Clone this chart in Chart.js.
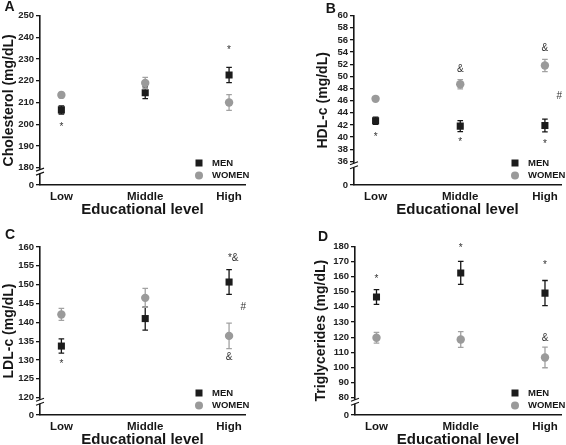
<!DOCTYPE html>
<html lang="en">
<head>
  <meta charset="utf-8">
  <title>Lipids by educational level</title>
  <script src="https://cdn.jsdelivr.net/npm/chart.js@4.4.1/dist/chart.umd.min.js"></script>
  <style type="text/css">
    body {
      margin: 0;
      background-color: #ffffff;
    }
    #wrap {
      position: relative;
      width: 566px;
      height: 445px;
      overflow: hidden;
    }
    canvas {
      position: absolute;
    }
  </style>
</head>
<body>
  <div id="wrap">
    <canvas id="cA" width="283" height="222" style="left:0;top:0;"></canvas>
    <canvas id="cB" width="283" height="222" style="left:283px;top:0;"></canvas>
    <canvas id="cC" width="283" height="226" style="left:0;top:222px;"></canvas>
    <canvas id="cD" width="283" height="226" style="left:283px;top:222px;"></canvas>
  </div>
  <script>
    var categories = ['Low', 'Middle', 'High'];
    var seriesLabels = ['MEN', 'WOMEN'];
    var xTitle = 'Educational level';
    var breakLabel = '0';

    // A - cholesterol
    var cholMen = [206.6, 214.5, 222.7];
    var cholMenErr = [1.9, 2.7, 3.5];
    var cholWomen = [213.5, 219.0, 210.0];
    var cholWomenErr = [1.2, 2.6, 3.6];
    var cholTicks = [180, 190, 200, 210, 220, 230, 240, 250];
    var cholNotes = [[0, 199.7, '*'], [2, 235, '*']];

    // B - HDL-c
    var hdlMen = [42.7, 41.8, 41.9];
    var hdlMenErr = [0.6, 0.9, 1.05];
    var hdlWomen = [46.3, 48.7, 51.8];
    var hdlWomenErr = [0.3, 0.75, 1.0];
    var hdlTicks = [36, 38, 40, 42, 44, 46, 48, 50, 52, 54, 56, 58, 60];
    var hdlNotes = [[0, 40.35, '*'], [1, 51.2, '&'], [1, 39.4, '*'], [2, 54.7, '&'], [2, 39.2, '*'], [2.17, 46.8, '#']];

    // C - LDL-c
    var ldlMen = [133.7, 141.0, 150.7];
    var ldlMenErr = [1.9, 3.05, 3.3];
    var ldlWomen = [142.1, 146.5, 136.4];
    var ldlWomenErr = [1.6, 2.5, 3.4];
    var ldlTicks = [120, 125, 130, 135, 140, 145, 150, 155, 160];
    var ldlNotes = [[0, 129.5, '*'], [2.05, 157.6, '*&'], [2, 130.6, '&'], [2.17, 144.1, '#']];

    // D - triglycerides
    var tgMen = [146.5, 162.4, 149.1];
    var tgMenErr = [4.85, 7.6, 8.3];
    var tgWomen = [119.6, 118.5, 106.6];
    var tgWomenErr = [3.5, 5.2, 6.8];
    var tgTicks = [80, 90, 100, 110, 120, 130, 140, 150, 160, 170, 180];
    var tgNotes = [[0, 159.7, '*'], [1, 180, '*'], [2, 168.8, '*'], [2, 119.6, '&']];

    var menColor = '#1c1c1c';
    var womenColor = '#9a9a9a';
    var inkColor = '#161616';

    Chart.defaults.font.family = '"Liberation Sans", Arial, sans-serif';
    Chart.defaults.color = inkColor;

    var errorBarPlugin = {
      id: 'errorBars',
      beforeDatasetDraw: function (chart, args) {
        var ds = chart.data.datasets[args.index];
        var ys = chart.scales.y;
        var ctx = chart.ctx;
        var meta = chart.getDatasetMeta(args.index);
        ctx.save();
        ctx.strokeStyle = ds.errColor;
        ctx.lineWidth = 1.3;
        meta.data.forEach(function (el, i) {
          var v = ds.data[i].y;
          var top = ys.getPixelForValue(v + ds.errors[i]);
          var bot = ys.getPixelForValue(v - ds.errors[i]);
          ctx.beginPath();
          ctx.moveTo(el.x, top);
          ctx.lineTo(el.x, bot);
          ctx.moveTo(el.x - 2.8, top);
          ctx.lineTo(el.x + 2.8, top);
          ctx.moveTo(el.x - 2.8, bot);
          ctx.lineTo(el.x + 2.8, bot);
          ctx.stroke();
        });
        ctx.restore();
      }
    };

    var decorPlugin = {
      id: 'decor',
      afterDraw: function (chart) {
        var p = chart.options.plugins.decor;
        var ctx = chart.ctx;
        var xs = chart.scales.x, ys = chart.scales.y;
        var area = chart.chartArea;
        ctx.save();

        // significance marks
        ctx.fillStyle = '#333333';
        ctx.font = '10px "Liberation Sans", Arial, sans-serif';
        ctx.textAlign = 'center';
        ctx.textBaseline = 'middle';
        p.notes.forEach(function (n) {
          var dy = n[2].charAt(0) === '*' ? 2 : 0;
          ctx.fillText(n[2], xs.getPixelForValue(n[0]), ys.getPixelForValue(n[1]) + dy);
        });

        // axis break
        var ax = area.left;
        var yb = ys.getPixelForValue(p.ticks[0]) + 4;
        ctx.fillStyle = '#ffffff';
        ctx.fillRect(ax - 2, yb - 2, 4, 4);
        ctx.strokeStyle = inkColor;
        ctx.lineWidth = 1.1;
        ctx.beginPath();
        ctx.moveTo(ax - 4, yb - 0.5);
        ctx.lineTo(ax + 4, yb - 3.5);
        ctx.moveTo(ax - 4, yb + 3.5);
        ctx.lineTo(ax + 4, yb + 0.5);
        ctx.stroke();

        // legend
        var lx = area.right - 46;
        ctx.fillStyle = menColor;
        ctx.fillRect(lx - 3.5, area.bottom - 22 - 3.5, 7, 7);
        ctx.fillStyle = womenColor;
        ctx.beginPath();
        ctx.arc(lx, area.bottom - 9.5, 4, 0, Math.PI * 2);
        ctx.fill();
        ctx.fillStyle = inkColor;
        ctx.font = 'bold 9.5px "Liberation Sans", Arial, sans-serif';
        ctx.textAlign = 'left';
        ctx.fillText(seriesLabels[0], lx + 13, area.bottom - 22);
        ctx.fillText(seriesLabels[1], lx + 13, area.bottom - 9.5);

        // panel letter
        ctx.font = 'bold 14px "Liberation Sans", Arial, sans-serif';
        ctx.textAlign = 'center';
        ctx.fillText(p.letter, p.letterX, p.letterY);
        ctx.restore();
      }
    };

    function makePanel(p) {
      var menData = p.men.map(function (v, i) { return {x: i, y: v}; });
      var womenData = p.women.map(function (v, i) { return {x: i, y: v}; });
      new Chart(document.getElementById(p.id), {
        type: 'scatter',
        data: {
          datasets: [
            {
              label: seriesLabels[1],
              data: womenData,
              errors: p.womenErr,
              errColor: '#a2a2a2',
              pointStyle: 'circle',
              pointRadius: 4.2,
              backgroundColor: womenColor,
              borderWidth: 0
            },
            {
              label: seriesLabels[0],
              data: menData,
              errors: p.menErr,
              errColor: inkColor,
              pointStyle: 'rect',
              pointRadius: 5,
              backgroundColor: menColor,
              borderWidth: 0
            }
          ]
        },
        options: {
          responsive: false,
          animation: false,
          events: [],
          layout: { padding: p.pad },
          plugins: {
            legend: { display: false },
            tooltip: { enabled: false },
            decor: p
          },
          scales: {
            x: {
              type: 'linear',
              min: -0.255,
              max: 2.19,
              afterBuildTicks: function (s) {
                s.ticks = categories.map(function (c, i) { return {value: i}; });
              },
              afterFit: function (s) { s.height = p.xHeight; },
              grid: { display: false, drawTicks: false },
              border: { display: true, color: inkColor, width: 1.6 },
              ticks: {
                padding: 5,
                color: inkColor,
                font: { size: 11.5, weight: 'bold' },
                callback: function (v) { return categories[v]; }
              },
              title: {
                display: true,
                text: xTitle,
                color: inkColor,
                font: { size: 15, weight: 'bold' },
                padding: { top: 0, bottom: p.xTitlePad }
              }
            },
            y: {
              min: p.min,
              max: p.max,
              bounds: 'data',
              afterBuildTicks: function (s) {
                s.ticks = [p.min].concat(p.ticks).map(function (v) { return {value: v}; });
              },
              afterFit: function (s) { s.width = p.yWidth; },
              grid: { display: true, drawOnChartArea: false, drawTicks: true, tickLength: 4, color: inkColor, lineWidth: 1.3 },
              border: { display: true, color: inkColor, width: 1.6 },
              ticks: {
                autoSkip: false,
                padding: 2,
                color: '#222222',
                font: { size: 9.5, weight: 'bold' },
                callback: function (v) { return v === p.min ? breakLabel : v; }
              },
              title: {
                display: true,
                text: p.title,
                color: inkColor,
                font: { size: 14, weight: 'bold' },
                padding: { top: 1, bottom: 0 }
              }
            }
          }
        },
        plugins: [errorBarPlugin, decorPlugin]
      });
    }

    makePanel({
      id: 'cA', letter: 'A', letterX: 9.5, letterY: 7.5,
      title: 'Cholesterol (mg/dL)',
      men: cholMen, menErr: cholMenErr, women: cholWomen, womenErr: cholWomenErr,
      ticks: cholTicks, notes: cholNotes, min: 172, max: 250,
      pad: { left: 0, top: 15.7, right: 38, bottom: 0 }, yWidth: 40, xHeight: 37, xTitlePad: 3
    });
    makePanel({
      id: 'cB', letter: 'B', letterX: 47.7, letterY: 9.5,
      title: 'HDL-c (mg/dL)',
      men: hdlMen, menErr: hdlMenErr, women: hdlWomen, womenErr: hdlWomenErr,
      ticks: hdlTicks, notes: hdlNotes, min: 32.1, max: 60,
      pad: { left: 31, top: 15.7, right: 5, bottom: 0 }, yWidth: 40, xHeight: 37, xTitlePad: 3
    });
    makePanel({
      id: 'cC', letter: 'C', letterX: 10, letterY: 13.3,
      title: 'LDL-c (mg/dL)',
      men: ldlMen, menErr: ldlMenErr, women: ldlWomen, womenErr: ldlWomenErr,
      ticks: ldlTicks, notes: ldlNotes, min: 115.4, max: 160,
      pad: { left: 0, top: 25, right: 38, bottom: 0 }, yWidth: 40, xHeight: 33, xTitlePad: -1
    });
    makePanel({
      id: 'cD', letter: 'D', letterX: 40, letterY: 15.5,
      title: 'Triglycerides (mg/dL)',
      men: tgMen, menErr: tgMenErr, women: tgWomen, womenErr: tgWomenErr,
      ticks: tgTicks, notes: tgNotes, min: 68.6, max: 180,
      pad: { left: 29, top: 24.3, right: 5, bottom: 0 }, yWidth: 43, xHeight: 33, xTitlePad: -1
    });
  </script>
</body>
</html>
